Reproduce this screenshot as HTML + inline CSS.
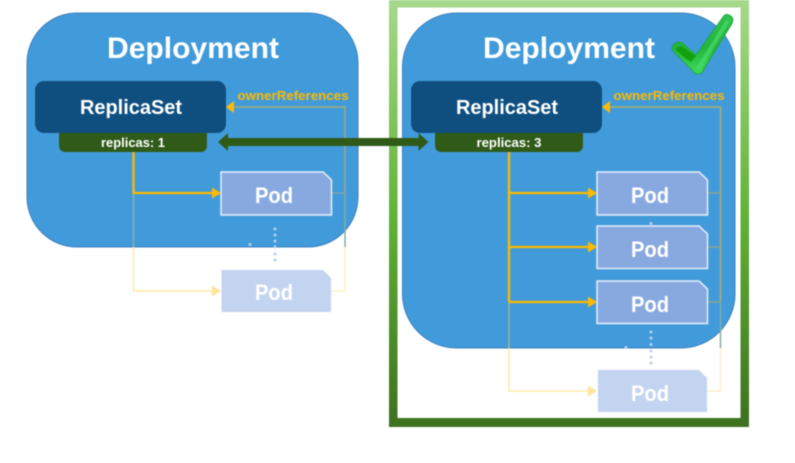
<!DOCTYPE html>
<html>
<head>
<meta charset="utf-8">
<style>
html,body{margin:0;padding:0;background:#fff;width:795px;height:463px;overflow:hidden}
svg{display:block}
text{font-family:"Liberation Sans",sans-serif;font-weight:bold;fill:#fff;text-anchor:middle}
</style>
</head>
<body>
<svg width="795" height="463" viewBox="0 0 795 463" xmlns="http://www.w3.org/2000/svg">
<defs>
<linearGradient id="fr" x1="0" y1="0" x2="0" y2="1">
<stop offset="0" stop-color="#A6D98B"/>
<stop offset="0.5" stop-color="#62B337"/>
<stop offset="1" stop-color="#3D711F"/>
</linearGradient>
<linearGradient id="ck" x1="0" y1="0" x2="0" y2="1">
<stop offset="0" stop-color="#2EC44C"/>
<stop offset="0.55" stop-color="#24B540"/>
<stop offset="1" stop-color="#3BD95A"/>
</linearGradient>
<filter id="soft" x="-5%" y="-5%" width="110%" height="110%" color-interpolation-filters="sRGB"><feGaussianBlur stdDeviation="0.4"/></filter>
</defs>
<g filter="url(#soft)">
<!-- frame -->
<path fill-rule="evenodd" fill="url(#fr)" d="M389 0H749V427H389ZM397.500 7.500V418H740.500V7.500Z"/>

<!-- Deployments -->
<rect x="27" y="13" width="331" height="234" rx="50" fill="#419BDA" stroke="#3B80C0" stroke-width="1"/>
<rect x="402.500" y="13" width="332.500" height="335" rx="54" fill="#419BDA" stroke="#3B80C0" stroke-width="1"/>

<text x="193" y="58" font-size="30" textLength="172" lengthAdjust="spacingAndGlyphs">Deployment</text>
<text x="569" y="58" font-size="30" textLength="172" lengthAdjust="spacingAndGlyphs">Deployment</text>

<!-- Left connectors -->
<g fill="none" stroke-width="1.500">
<path d="M133.500 247V291H214" stroke="#FFE9A8"/>
<path d="M133.500 193V247" stroke="#8FB09C"/>
<path d="M331 291H345V247" stroke="#FFEFC4"/>
<path d="M345 247V193" stroke="#84ABA5"/>
<path d="M345 193V107H232" stroke="#A0AB80"/>
<path d="M331 193H345" stroke="#7FA5A0"/>
<path d="M133.500 152V193H214" stroke="#FFB900" stroke-width="2.300"/>
</g>
<path d="M221 193L212 187.500V198.500Z" fill="#FFB900"/>
<path d="M221 291L212 285.500V296.500Z" fill="#FFE49A"/>
<path d="M226 107L234 101V113Z" fill="#FFB900"/>

<!-- Right connectors -->
<g fill="none" stroke-width="1.500">
<path d="M509 348V391H590" stroke="#FFE9A8"/>
<path d="M509 302V348" stroke="#9FB09A"/>
<path d="M707 391H720.500V348" stroke="#FFEFC4"/>
<path d="M720.500 348V302" stroke="#84ABA5"/>
<path d="M720.500 302V107H608" stroke="#B0AD70"/>
<path d="M708 193H720.500M708 247H720.500M708 302H720.500" stroke="#8AA590"/>
<path d="M509 152V302M509 193H590M509 247H590M509 302H590" stroke="#FFB900" stroke-width="2.300"/>
</g>
<path d="M597 193L588 187.500V198.500Z" fill="#FFB900"/>
<path d="M597 247L588 241.500V252.500Z" fill="#FFB900"/>
<path d="M597 302L588 296.500V307.500Z" fill="#FFB900"/>
<path d="M597 391L588 385.500V396.500Z" fill="#FFE49A"/>
<path d="M602 107L610 101V113Z" fill="#FFB900"/>

<!-- ReplicaSets -->
<path d="M59 130H207V146a6 6 0 0 1-6 6H65a6 6 0 0 1-6-6Z" fill="#2F5A18"/>
<path d="M435 130H583V146a6 6 0 0 1-6 6H441a6 6 0 0 1-6-6Z" fill="#2F5A18"/>
<rect x="35" y="81" width="191" height="52" rx="9" fill="#0F4F80"/>
<rect x="411" y="81" width="191" height="52" rx="9" fill="#0F4F80"/>
<text x="131" y="114" font-size="20" textLength="102" lengthAdjust="spacingAndGlyphs">ReplicaSet</text>
<text x="507" y="114" font-size="20" textLength="102" lengthAdjust="spacingAndGlyphs">ReplicaSet</text>
<text x="133" y="147" font-size="13" textLength="64" lengthAdjust="spacingAndGlyphs">replicas: 1</text>
<text x="509" y="147" font-size="13" textLength="65" lengthAdjust="spacingAndGlyphs">replicas: 3</text>

<text x="293" y="100" font-size="13" style="fill:#FFB900" textLength="111" lengthAdjust="spacingAndGlyphs">ownerReferences</text>
<text x="669" y="100" font-size="13" style="fill:#FFB900" textLength="111" lengthAdjust="spacingAndGlyphs">ownerReferences</text>

<!-- Double arrow -->
<path d="M218 142L228 133V138H418.500V133L428.500 142L418.500 151V146H228V151Z" fill="#2F5A18"/>

<!-- Dots -->
<g fill="#B7D0F0">
<circle cx="275" cy="229" r="1.500"/><circle cx="275" cy="235" r="1.500"/><circle cx="275" cy="241" r="1.500"/>
<circle cx="275" cy="247" r="1.500"/><circle cx="275" cy="254" r="1.500"/><circle cx="275" cy="260" r="1.500"/>
<circle cx="250" cy="244.500" r="1.500"/>
<circle cx="651" cy="332" r="1.500"/><circle cx="651" cy="338" r="1.500"/><circle cx="651" cy="344.500" r="1.500"/>
<circle cx="651" cy="351" r="1.500"/><circle cx="651" cy="357" r="1.500"/><circle cx="651" cy="363" r="1.500"/>
<circle cx="626" cy="347.500" r="1.500"/>
<circle cx="651" cy="223.500" r="1.500"/>
</g>

<!-- Pods -->
<g fill="#88A9E0" stroke="#E4EEFA" stroke-width="1.500">
<path d="M221 172H323L331.500 180V215H221Z"/>
<path d="M597 172H699L707.500 180V215H597Z"/>
<path d="M597 226H699L707.500 234V268.500H597Z"/>
<path d="M597 281H699L707.500 289V323.500H597Z"/>
</g>
<path d="M221.500 270H323L331 278V312H221.500Z" fill="#C3D4F0"/>
<path d="M598 370H699L707 378V412H598Z" fill="#C3D4F0"/>
<g font-size="22">
<text x="274" y="203" textLength="38" lengthAdjust="spacingAndGlyphs">Pod</text>
<text x="650" y="203" textLength="38" lengthAdjust="spacingAndGlyphs">Pod</text>
<text x="650" y="257" textLength="38" lengthAdjust="spacingAndGlyphs">Pod</text>
<text x="650" y="312" textLength="38" lengthAdjust="spacingAndGlyphs">Pod</text>
<text x="274" y="300" textLength="38" lengthAdjust="spacingAndGlyphs">Pod</text>
<text x="650" y="401" textLength="38" lengthAdjust="spacingAndGlyphs">Pod</text>
</g>

<!-- Check mark -->
<path d="M723.700 16L696 55L682 42.700Q677 40.500 672.500 46Q671 49 674 52L695 73.500Q699 75 702 72.500L732 23.500Q734.500 18 730 15.500Q726 13 723.700 16Z" fill="url(#ck)" stroke="#1E9E3A" stroke-width="0.800"/>
<path d="M675 49Q678 46 682 46.500L696 56L691 62Q684 58 675 49Z" fill="#14A00C"/>
<path d="M696 68L726 20L730 21L700 70Z" fill="#4FE070" opacity="0.6"/>
</g>
</svg>
</body>
</html>
